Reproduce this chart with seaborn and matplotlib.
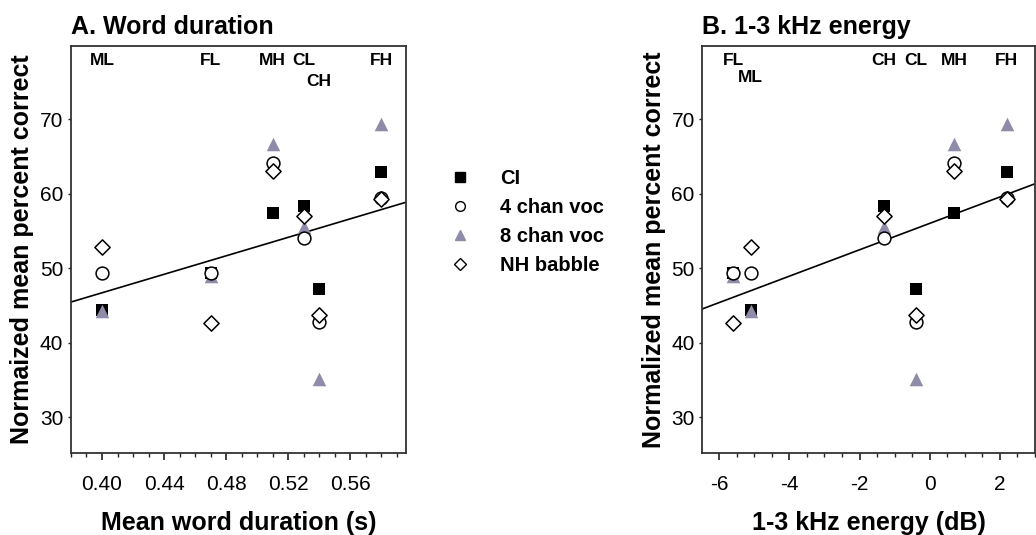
import numpy as np
import pandas as pd
import matplotlib
matplotlib.use("Agg")
import matplotlib.pyplot as plt
import seaborn as sns
from matplotlib.ticker import MultipleLocator, FormatStrFormatter

sns.set_style("white")
plt.rcParams['font.family'] = ['Liberation Sans', 'DejaVu Sans']
plt.rcParams['axes.unicode_minus'] = False
plt.rcParams.update({"text.color": "black", "axes.labelcolor": "black",
                     "xtick.color": "black", "ytick.color": "black"})

# talkers and their acoustic measures
talkers = ["ML", "FL", "MH", "CL", "CH", "FH"]
word_duration = [0.40, 0.47, 0.51, 0.53, 0.54, 0.58]
energy_db = [-5.1, -5.6, 0.7, -1.3, -0.4, 2.2]

# talker labels printed along the top of panel B
labels_b = ["FL", "ML", "CH", "CL", "MH", "FH"]
labels_b_x = [-5.6, -5.1, -1.3, -0.4, 0.7, 2.2]

# normalized mean percent correct per listening condition (same talker order)
ci = [44.4, 49.3, 57.4, 58.3, 47.2, 62.9]
chan4 = [49.4, 49.3, 64.1, 54.0, 42.8, 59.4]
chan8 = [44.3, 49.0, 66.6, 55.5, 35.2, 69.4]
nh_babble = [52.9, 42.7, 63.0, 57.0, 43.7, 59.3]

conditions = ["CI", "4 chan voc", "8 chan voc", "NH babble"]

df = pd.DataFrame({
    "talker": talkers * 4,
    "duration": word_duration * 4,
    "energy": energy_db * 4,
    "condition": np.repeat(conditions, len(talkers)),
    "score": ci + chan4 + chan8 + nh_babble,
})
means = df.groupby("talker", sort=False)[["duration", "energy", "score"]].mean().reset_index()

tri_col = "#8e8ca8"
styles = {
    "CI": dict(marker="s", color="black", edgecolor="black", s=80, lw=0),
    "8 chan voc": dict(marker="^", color=tri_col, edgecolor=tri_col, s=95, lw=0),
    "4 chan voc": dict(marker="o", color="white", edgecolor="black", s=85, lw=1.1),
    "NH babble": dict(marker="D", color="white", edgecolor="black", s=60, lw=1.1),
}
xlabel_map = {"duration": "Mean word duration (s)", "energy": "1-3 kHz energy (dB)"}

fig = plt.figure(figsize=(10.36, 5.35), dpi=100)
axA = fig.add_axes([0.0685, 0.153, 0.3235, 0.761])
axB = fig.add_axes([0.678, 0.153, 0.321, 0.761])


def draw_panel(ax, xcol, xlim, major, minor, ylabel, title, lab_text, lab_x, lab_y):
    ax.set_xlim(xlim)
    ax.set_ylim(25.2, 79.8)
    sns.regplot(data=means, x=xcol, y="score", ax=ax, scatter=False, ci=None,
                truncate=False, line_kws=dict(color="black", lw=1.2))
    for cond in ["CI", "8 chan voc", "4 chan voc", "NH babble"]:
        st = styles[cond]
        sub = df[df["condition"] == cond]
        sns.scatterplot(data=sub, x=xcol, y="score", ax=ax, marker=st["marker"],
                        color=st["color"], edgecolor=st["edgecolor"], s=st["s"],
                        linewidth=st["lw"], zorder=3, legend=False)
    ax.set_xlim(xlim)
    ax.set_ylim(25.2, 79.8)
    for t, xv in zip(lab_text, lab_x):
        ax.text(xv, lab_y.get(t, 77.8), t, ha="center", va="center",
                fontsize=12.5, fontweight="bold")
    ax.xaxis.set_major_locator(MultipleLocator(major))
    ax.xaxis.set_minor_locator(MultipleLocator(minor))
    ax.set_yticks([30, 40, 50, 60, 70])
    ax.tick_params(axis="x", which="major", direction="out", length=5, width=1.2,
                   bottom=True, labelsize=15, pad=11, color="#222222")
    ax.tick_params(axis="x", which="minor", direction="out", length=3, width=1.0,
                   bottom=True, color="#222222")
    ax.tick_params(axis="y", which="major", direction="out", length=2.5, width=1.0,
                   left=True, labelsize=15, pad=3, color="#222222")
    for sp in ax.spines.values():
        sp.set_visible(True)
        sp.set_color("#333333")
        sp.set_linewidth(1.3)
    ax.set_xlabel(xlabel_map[xcol], fontsize=18, fontweight="bold", labelpad=12)
    ax.set_ylabel(ylabel, fontsize=18, fontweight="bold", labelpad=4)
    ax.set_title(title, fontsize=18, fontweight="bold", loc="left", pad=9)


draw_panel(axA, "duration", (0.38, 0.596), 0.04, 0.01,
           "Normaized mean percent correct", "A. Word duration",
           talkers, word_duration, {"CH": 75.0})
axA.xaxis.set_major_formatter(FormatStrFormatter("%.2f"))
draw_panel(axB, "energy", (-6.48, 3.0), 2, 0.5,
           "Normalized mean percent correct", "B. 1-3 kHz energy",
           labels_b, labels_b_x, {"ML": 75.6})

# legend between panels
handles = []
for cond in conditions:
    st = styles[cond]
    h = plt.Line2D([], [], linestyle="none", marker=st["marker"],
                   markerfacecolor=st["color"], markeredgecolor=st["edgecolor"],
                   markeredgewidth=1.0, markersize=7 if st["marker"] != "D" else 6)
    handles.append(h)
fig.legend(handles, conditions, loc="upper left", bbox_to_anchor=(0.417, 0.718),
           frameon=False, prop=dict(size=14.5, weight="bold"), handletextpad=1.5,
           labelspacing=0.5, handlelength=1.0)

fig.savefig("out.png", dpi=100)
